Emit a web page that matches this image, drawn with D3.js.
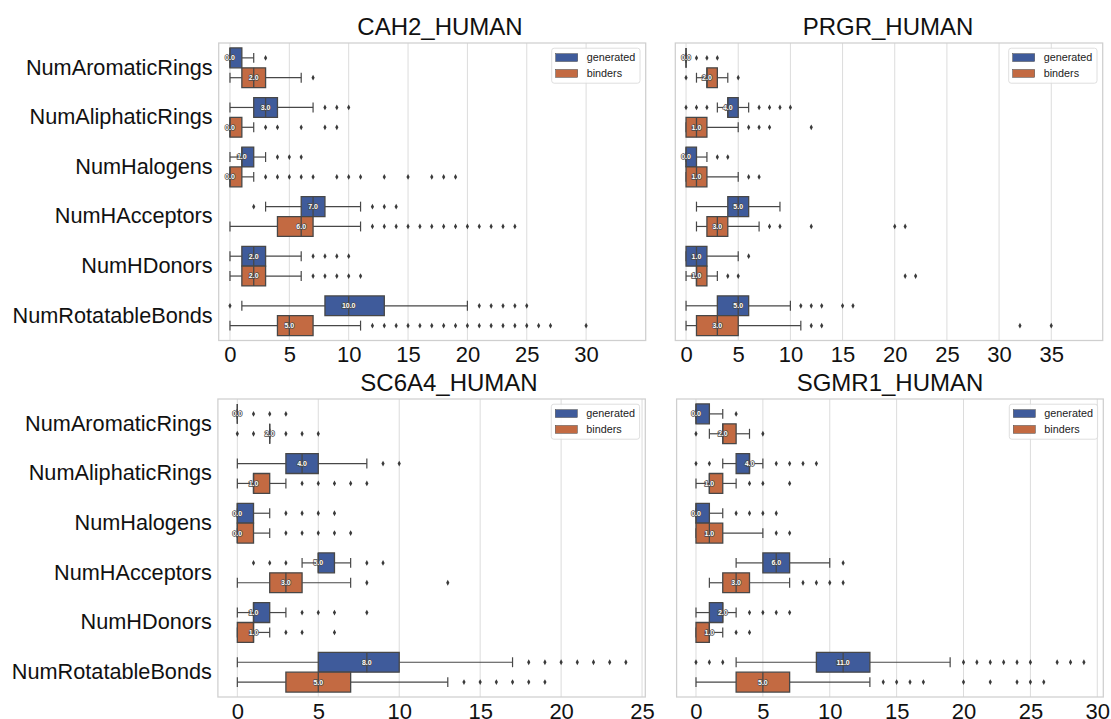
<!DOCTYPE html>
<html>
<head>
<meta charset="utf-8">
<script src="https://cdn.jsdelivr.net/npm/d3@7"></script>
<style>
  body { margin: 0; background: #fff; }
  svg { display: block; font-family: "Liberation Sans", Arial, Helvetica, sans-serif; }
</style>
</head>
<body>
<svg id="chart" width="1111" height="719"></svg>
<script>
// ---- data -------------------------------------------------------------
const categories = ["NumAromaticRings", "NumAliphaticRings", "NumHalogens",
                    "NumHAcceptors", "NumHDonors", "NumRotatableBonds"];
const hues = ["generated", "binders"];
const hueColors = ["#3f5b9b", "#c36a42"];
const titles = ["CAH2_HUMAN", "PRGR_HUMAN", "SC6A4_HUMAN", "SGMR1_HUMAN"];
const xTickValues = [
  [0, 5, 10, 15, 20, 25, 30],
  [0, 5, 10, 15, 20, 25, 30, 35],
  [0, 5, 10, 15, 20, 25],
  [0, 5, 10, 15, 20, 25, 30]
];

// per category: [whisker low, Q1, median, Q3, whisker high]
const cah2Generated = [[0,0,0,1,2],[0,2,3,4,7],[0,1,1,2,3],[3,6,7,8,11],[0,1,2,3,6],[1,8,10,13,20]];
const cah2GeneratedOut = [[3],[8,9,10],[4,5,6],[2,12,13,14],[7,8,9,10],[0,21,22,23,24,25]];
const cah2Binders = [[0,1,2,3,6],[0,0,0,1,2],[0,0,0,1,2],[0,4,6,7,11],[0,1,2,3,6],[0,4,5,7,11]];
const cah2BindersOut = [[7],[3,4,6,8,9],[3,4,5,6,7,9,10,11,13,15,17,18,19],
  [12,13,14,15,16,17,18,19,20,21,22,23,24],[7,8,9,10,11],
  [12,13,14,15,16,17,18,19,20,21,22,23,24,25,26,27,30]];

const prgrGenerated = [[0,0,0,0,0],[3,4,4,5,6],[0,0,0,1,2],[1,4,5,6,9],[0,0,1,2,5],[0,3,5,6,10]];
const prgrGeneratedOut = [[1,2,3],[0,1,2,7,8,9,10],[3,4],[],[6],[11,12,13,15,16]];
const prgrBinders = [[1,2,2,3,4],[0,0,1,2,5],[0,0,1,2,5],[1,2,3,4,7],[0,1,1,2,3],[0,1,3,5,11]];
const prgrBindersOut = [[0,5],[6,7,8,12],[6,7],[8,9,12,20,21],[4,5,21,22],[12,13,32,35]];

const sc6a4Generated = [[0,0,0,0,0],[0,3,4,5,8],[0,0,0,1,2],[4,5,5,6,7],[0,1,1,2,3],[0,5,8,10,17]];
const sc6a4GeneratedOut = [[1,2,3],[9,10],[3,4,5,6],[1,2,3,8,9],[4,5,6,8],[18,19,20,21,22,23,24]];
const sc6a4Binders = [[2,2,2,2,2],[0,1,1,2,3],[0,0,0,1,2],[0,2,3,4,7],[0,0,1,1,2],[0,3,5,7,13]];
const sc6a4BindersOut = [[0,1,3,4,5],[4,5,6,7,8],[3,4,5,6,7],[8,13],[3,4,6],[14,15,16,17,18,19]];

const sgmr1Generated = [[0,0,0,1,2],[2,3,4,4,5],[0,0,0,1,2],[3,5,6,7,10],[0,1,2,2,3],[3,9,11,13,19]];
const sgmr1GeneratedOut = [[3],[0,1,6,7,8,9],[3,4,5,6],[11],[4,5,6,7],
  [0,1,2,20,21,22,23,24,25,27,28,29]];
const sgmr1Binders = [[1,2,2,3,4],[0,1,1,2,3],[0,0,1,2,5],[1,2,3,4,7],[0,0,1,1,2],[0,3,5,7,13]];
const sgmr1BindersOut = [[0,5],[4,5,7],[6,7],[8,9,10,11],[3,4],[14,15,16,17,20,22,24,25,26]];

// ---- layout -----------------------------------------------------------
const panels = [
  { title: titles[0], ticks: xTickValues[0], stats: [cah2Generated, cah2Binders],
    outliers: [cah2GeneratedOut, cah2BindersOut], titleX: 440,
    left: 218.7, right: 645.7, top: 43, bottom: 340.5, domain: [-0.95, 35.02], showY: true },
  { title: titles[1], ticks: xTickValues[1], stats: [prgrGenerated, prgrBinders],
    outliers: [prgrGeneratedOut, prgrBindersOut], titleX: 888,
    left: 675.3, right: 1102.7, top: 43, bottom: 340.5, domain: [-1.03, 39.93], showY: false },
  { title: titles[2], ticks: xTickValues[2], stats: [sc6a4Generated, sc6a4Binders],
    outliers: [sc6a4GeneratedOut, sc6a4BindersOut], titleX: 449,
    left: 217.9, right: 645.3, top: 399, bottom: 697, domain: [-1.2, 25.2], showY: true },
  { title: titles[3], ticks: xTickValues[3], stats: [sgmr1Generated, sgmr1Binders],
    outliers: [sgmr1GeneratedOut, sgmr1BindersOut], titleX: 890,
    left: 676.6, right: 1103.3, top: 399, bottom: 697, domain: [-1.45, 30.45], showY: false }
];

const svg = d3.select("#chart");
const lineColor = "#474747";
const gridColor = "#dcdcdc";
const fmt = d3.format(".1f");
const diamond = "M0,-2.9L1.6,0L0,2.9L-1.6,0Z";

panels.forEach(p => {
  const x = d3.scaleLinear().domain(p.domain).range([p.left, p.right]);
  const y = d3.scaleBand().domain(categories).range([p.top, p.bottom]).padding(0);
  const bw = y.bandwidth();
  const boxH = bw * 0.4;

  const g = svg.append("g");

  // vertical grid
  g.append("g").selectAll("line").data(p.ticks).join("line")
    .attr("x1", d => x(d)).attr("x2", d => x(d))
    .attr("y1", p.top).attr("y2", p.bottom)
    .attr("stroke", gridColor).attr("stroke-width", 1);

  // boxes
  hues.forEach((hue, hi) => {
    const hg = g.append("g").attr("class", "hue-" + hue);
    categories.forEach((cat, ci) => {
      const [lo, q1, med, q3, hiW] = p.stats[hi][ci];
      const cy = y(cat) + bw / 2 + (hi === 0 ? -bw * 0.2 : bw * 0.2);
      const y0 = cy - boxH / 2, y1 = cy + boxH / 2;
      const cap = boxH / 4;

      // whiskers
      hg.append("line").attr("x1", x(lo)).attr("x2", x(q1)).attr("y1", cy).attr("y2", cy)
        .attr("stroke", lineColor).attr("stroke-width", 1.2);
      hg.append("line").attr("x1", x(q3)).attr("x2", x(hiW)).attr("y1", cy).attr("y2", cy)
        .attr("stroke", lineColor).attr("stroke-width", 1.2);
      // caps
      [lo, hiW].forEach(v => {
        hg.append("line").attr("x1", x(v)).attr("x2", x(v)).attr("y1", cy - cap).attr("y2", cy + cap)
          .attr("stroke", lineColor).attr("stroke-width", 1.2);
      });
      // box
      hg.append("path")
        .attr("d", `M${x(q1)},${y0}H${x(q3)}V${y1}H${x(q1)}Z`)
        .attr("fill", hueColors[hi]).attr("stroke", lineColor).attr("stroke-width", 1.3);
      // median
      hg.append("line").attr("x1", x(med)).attr("x2", x(med)).attr("y1", y0).attr("y2", y1)
        .attr("stroke", lineColor).attr("stroke-width", 1.3);
      // outliers
      p.outliers[hi][ci].forEach(v => {
        hg.append("path").attr("d", diamond)
          .attr("transform", `translate(${x(v)},${cy})`)
          .attr("fill", "#3a3a3a");
      });
      // median label
      hg.append("text")
        .attr("x", x(med)).attr("y", cy).attr("dy", "0.35em")
        .attr("text-anchor", "middle")
        .attr("font-size", 7).attr("font-weight", "bold")
        .attr("fill", "#ffffff").attr("stroke", "#4a4a4a").attr("stroke-width", 1.4)
        .attr("paint-order", "stroke")
        .text(fmt(med));
    });
  });

  // frame
  g.append("rect")
    .attr("x", p.left).attr("y", p.top)
    .attr("width", p.right - p.left).attr("height", p.bottom - p.top)
    .attr("fill", "none").attr("stroke", "#cfcfcf").attr("stroke-width", 1.25);

  // x axis labels
  const xa = g.append("g").attr("transform", `translate(0,${p.bottom})`)
    .call(d3.axisBottom(x).tickValues(p.ticks).tickSize(0).tickPadding(6).tickFormat(d3.format("d")));
  xa.select(".domain").remove();
  xa.selectAll("text").attr("font-size", 22).attr("fill", "#111")
    .attr("font-family", '"Liberation Sans", Arial, sans-serif');

  // y axis labels
  if (p.showY) {
    const ya = g.append("g").attr("transform", `translate(${p.left},0)`)
      .call(d3.axisLeft(y).tickSize(0).tickPadding(6));
    ya.select(".domain").remove();
    ya.selectAll("text").attr("font-size", 21.7).attr("fill", "#111")
      .attr("font-family", '"Liberation Sans", Arial, sans-serif');
  }

  // title
  g.append("text")
    .attr("x", p.titleX).attr("y", p.top - 8)
    .attr("text-anchor", "middle").attr("font-size", 24).attr("fill", "#111")
    .text(p.title);

  // legend
  const lw = 88.3, lh = 35;
  const lx = p.right - 5.7 - lw, ly = p.top + 5.2;
  const lg = g.append("g").attr("transform", `translate(${lx},${ly})`);
  lg.append("rect").attr("width", lw).attr("height", lh).attr("rx", 2.5)
    .attr("fill", "#fff").attr("fill-opacity", 0.85).attr("stroke", "#d6d6d6").attr("stroke-width", 0.8);
  hues.forEach((hue, i) => {
    const cy = 9.4 + i * 15.8;
    lg.append("rect").attr("x", 4).attr("y", cy - 3.9).attr("width", 22).attr("height", 7.8)
      .attr("fill", hueColors[i]).attr("stroke", lineColor).attr("stroke-width", 0.5);
    lg.append("text").attr("x", 35).attr("y", cy).attr("dy", "0.35em")
      .attr("font-size", 10.8).attr("fill", "#222").text(hue);
  });
});
</script>
</body>
</html>
